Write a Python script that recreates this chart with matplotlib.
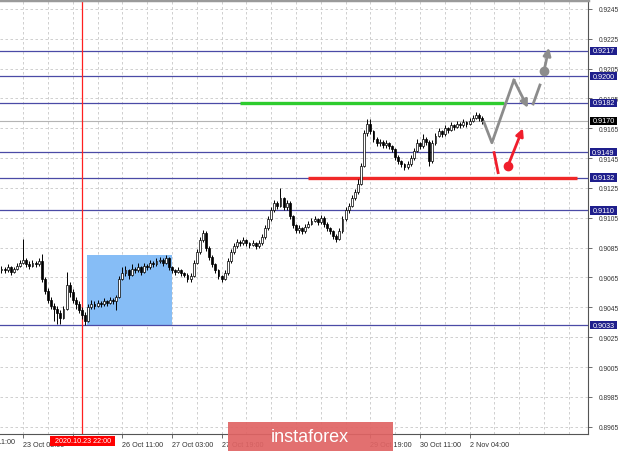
import matplotlib.pyplot as plt
import numpy as np
from matplotlib.patches import Rectangle
from matplotlib.transforms import blended_transform_factory

plt.rcParams['font.family'] = ['Liberation Sans', 'DejaVu Sans']

# H1 candles, prices in pips above 0.9000 (open of each bar = previous close)
first_open = 70
closes = [71, 70, 72, 69, 71, 73, 75, 77, 74, 73,
          75, 74, 76, 64, 56, 50, 46, 44, 41, 38,
          44, 60, 55, 50, 47, 43, 40, 36, 45, 47,
          46, 48, 47, 49, 48, 50, 49, 52, 64, 68,
          70, 67, 71, 70, 72, 69, 73, 72, 75, 74,
          76, 77, 75, 78, 72, 70, 69, 70, 68, 67,
          64, 66, 75, 82, 90, 95, 85, 79, 74, 70,
          66, 64, 68, 76, 82, 86, 89, 88, 90, 88,
          87, 88, 86, 88, 92, 98, 104, 110, 115, 113,
          118, 112, 115, 106, 100, 97, 98, 96, 99, 101,
          103, 104, 102, 105, 101, 98, 96, 93, 91, 96,
          104, 110, 113, 118, 122, 128, 140, 162, 168, 163,
          158, 155, 156, 154, 155, 153, 151, 146, 143, 141,
          139, 141, 145, 150, 155, 153, 158, 156, 143, 155,
          160, 163, 161, 165, 164, 167, 166, 168, 167, 169,
          168, 170, 172, 174, 172, 170]
highs = [73, 72, 74, 73, 72, 75, 77, 91, 78, 76,
         77, 76, 78, 81, 65, 58, 52, 48, 46, 43,
         46, 69, 62, 57, 52, 49, 45, 42, 47, 50,
         49, 50, 49, 51, 50, 52, 51, 53, 66, 72,
         73, 71, 74, 72, 75, 73, 75, 74, 77, 76,
         78, 79, 78, 80, 79, 73, 71, 72, 71, 69,
         68, 68, 77, 84, 92, 97, 96, 86, 80, 75,
         71, 67, 70, 78, 84, 88, 91, 90, 92, 91,
         89, 90, 89, 90, 94, 100, 106, 112, 117, 116,
         125, 119, 117, 116, 107, 101, 100, 99, 101, 103,
         105, 106, 105, 107, 106, 102, 99, 97, 94, 98,
         106, 112, 115, 120, 124, 131, 142, 164, 171, 171,
         164, 159, 158, 157, 157, 156, 154, 152, 147, 144,
         142, 143, 147, 152, 158, 156, 161, 159, 157, 157,
         162, 165, 164, 167, 166, 169, 168, 170, 169, 171,
         170, 172, 174, 176, 175, 173]
lows = [68, 68, 69, 67, 68, 70, 72, 74, 72, 71,
        72, 72, 73, 62, 54, 48, 44, 36, 34, 34,
        37, 43, 52, 48, 44, 41, 37, 33, 35, 44,
        44, 45, 45, 46, 46, 47, 47, 43, 51, 63,
        66, 64, 66, 68, 69, 67, 68, 70, 71, 72,
        73, 75, 73, 74, 70, 68, 67, 68, 66, 65,
        62, 62, 65, 74, 81, 89, 83, 77, 72, 68,
        64, 62, 63, 67, 75, 81, 85, 86, 87, 86,
        85, 86, 84, 85, 87, 91, 97, 103, 109, 111,
        112, 110, 110, 104, 98, 95, 95, 94, 95, 98,
        100, 102, 100, 101, 99, 96, 94, 91, 89, 90,
        95, 103, 108, 112, 117, 121, 127, 139, 160, 161,
        156, 153, 153, 152, 152, 151, 149, 144, 141, 139,
        137, 138, 140, 144, 149, 151, 152, 154, 140, 142,
        154, 159, 159, 160, 162, 163, 164, 165, 165, 166,
        166, 167, 169, 171, 170, 168]

levels = [0.9217, 0.9200, 0.9182, 0.9149, 0.9132, 0.9110, 0.9033]
last_price = 0.9170
buy_level, sell_level = 0.9182, 0.9132

# bar index of the time ticks; empty labels sit under the tags
tick_bars = [-9, 7, 23, 39, 55, 71, 87, 103, 119, 135, 151]
tick_labels = ["22 Oct 11:00", "23 Oct 03:00", "", "26 Oct 11:00",
               "27 Oct 03:00", "27 Oct 19:00", "", "",
               "29 Oct 19:00", "30 Oct 11:00", "2 Nov 04:00"]
vline_bar = 26
vline_label = "2020.10.23 22:00"

# scenario sketch (bar index, price)
gray_path_x = [155.6, 158.2, 165.3, 169.8]
gray_path_y = [0.91693, 0.91553, 0.91973, 0.91787]
gray_stub = [(171.5, 0.91813), (173.7, 0.91940)]
gray_up = [(175.0, 0.92033), (176.6, 0.92190)]
red_stub = [(158.9, 0.91487), (160.2, 0.91353)]
red_up = [(163.4, 0.91400), (168.2, 0.91650)]

c = 0.9 + np.array(closes) / 10000
h = 0.9 + np.array(highs) / 10000
l = 0.9 + np.array(lows) / 10000
o = np.concatenate([[0.9 + first_open / 10000], c[:-1]])
x = np.arange(len(c))

fig = plt.figure(figsize=(6.2, 4.52), dpi=100)
ax = fig.add_axes([0, 17 / 452, 588 / 620, 434 / 452])
ax.set_xlim(-0.48, 189.2)
ax.set_ylim(0.89601, 0.92510)

# grid
yt = np.round(np.arange(0.8965, 0.9246, 0.002), 4)
for v in yt:
    ax.axhline(v, color='#c8c8c8', lw=0.6, ls=(0, (3, 3)), zorder=0)
for b in range(7, 190, 8):
    ax.axvline(b, color='#c8c8c8', lw=0.6, ls=(0, (3, 3)), zorder=0)

# range box
ax.add_patch(Rectangle((27.6, 0.9033), 55.0 - 27.6, 0.9080 - 0.9033,
                       fc='#86bdf6', ec='none', zorder=1))

for lv in levels:
    ax.axhline(lv, color='#4a4aa6', lw=0.9, zorder=2)
ax.axhline(last_price, color='#b4b4b4', lw=0.8, zorder=2)
ax.axvline(vline_bar, color='#ff2020', lw=0.9, zorder=2)

ax.hlines(buy_level, 77, 162, color='#2ecc2e', lw=2.4, zorder=3)
ax.hlines(sell_level, 99, 185.6, color='#f02828', lw=2.4, zorder=3)

# candles
ax.vlines(x, l, h, color='black', lw=0.7, zorder=4)
bull = c >= o
body_lo = np.minimum(o, c)
body_h = np.maximum(np.abs(c - o), 0.00004)
ax.bar(x[bull], body_h[bull], bottom=body_lo[bull], width=0.62,
       color='white', edgecolor='black', linewidth=0.5, zorder=5)
ax.bar(x[~bull], body_h[~bull], bottom=body_lo[~bull], width=0.62,
       color='black', edgecolor='black', linewidth=0.5, zorder=5)

# scenario arrows
gray = '#8c8c8c'
red = '#f01e2c'
arrow = dict(arrowstyle='-|>', lw=2, mutation_scale=11, shrinkA=0, shrinkB=0)
ax.plot(gray_path_x[:3], gray_path_y[:3], color=gray, lw=2, zorder=6)
ax.annotate('', xy=(gray_path_x[3], gray_path_y[3]), xytext=(gray_path_x[2], gray_path_y[2]),
            arrowprops=dict(arrow, color=gray), zorder=6)
ax.plot(*zip(*gray_stub), color=gray, lw=2, zorder=6)
ax.plot(*gray_up[0], 'o', color=gray, ms=6, zorder=6)
ax.annotate('', xy=gray_up[1], xytext=gray_up[0], arrowprops=dict(arrow, color=gray), zorder=6)
ax.plot(*zip(*red_stub), color=red, lw=2, zorder=6)
ax.plot(*red_up[0], 'o', color=red, ms=6, zorder=6)
ax.annotate('', xy=red_up[1], xytext=red_up[0], arrowprops=dict(arrow, color=red), zorder=6)

# axes frame
ax.spines['left'].set_visible(False)
ax.spines['top'].set_color('#9a9a9a')
ax.spines['top'].set_linewidth(2.5)
for side in ['right', 'bottom']:
    ax.spines[side].set_color('#555555')
    ax.spines[side].set_linewidth(0.8)

ax.yaxis.tick_right()
ax.set_yticks(yt)
ax.set_yticklabels([f"{v:.4f}" for v in yt])
ax.tick_params(axis='y', length=3, width=0.6, color='#555555', pad=4.5,
               labelsize=4.8, labelcolor='#333333')

in_view = [(b, t) for b, t in zip(tick_bars, tick_labels) if b >= 0]
ax.set_xticks([b for b, _ in in_view])
ax.set_xticklabels([t for _, t in in_view], ha='left')
ax.tick_params(axis='x', length=3, width=0.6, color='#555555', pad=2,
               labelsize=5.2, labelcolor='#333333')
trans_x = blended_transform_factory(ax.transData, ax.transAxes)
ax.text(tick_bars[0], -0.0095, tick_labels[0], transform=trans_x, ha='left', va='top',
        fontsize=5.2, color='#333333', clip_on=False)

# price tags on the right scale
trans_y = blended_transform_factory(ax.transAxes, ax.transData)
tag_w, tag_h = 27 / 588, 0.00056
for lv, fc in [(v, '#1e1e8c') for v in levels] + [(last_price, 'black')]:
    ax.add_patch(Rectangle((1 + 2 / 588, lv - tag_h / 2), tag_w, tag_h, transform=trans_y,
                           fc=fc, ec='none', clip_on=False, zorder=9))
    ax.text(1 + 15.5 / 588, lv, f"{lv:.4f}", transform=trans_y, ha='center', va='center',
            fontsize=5.2, color='white', clip_on=False, zorder=10)

# time tag of the vertical line
ax.add_patch(Rectangle((vline_bar - 10.3, -0.0276), 21.0, 0.023, transform=trans_x,
                       fc='#ff0000', ec='none', clip_on=False, zorder=9))
ax.text(vline_bar + 0.2, -0.0161, vline_label, transform=trans_x, ha='center', va='center',
        fontsize=5.2, color='white', clip_on=False, zorder=10)

# watermark
fig.add_artist(Rectangle((228 / 620, 0), 165 / 620, 29 / 452, transform=fig.transFigure,
                         fc='#e06464', ec='none', alpha=0.92, zorder=20))
fig.text(310 / 620, 14 / 452, "instaforex", ha='center', va='center', fontsize=13,
         color='white', zorder=21)

fig.savefig('out.png', dpi=100)
